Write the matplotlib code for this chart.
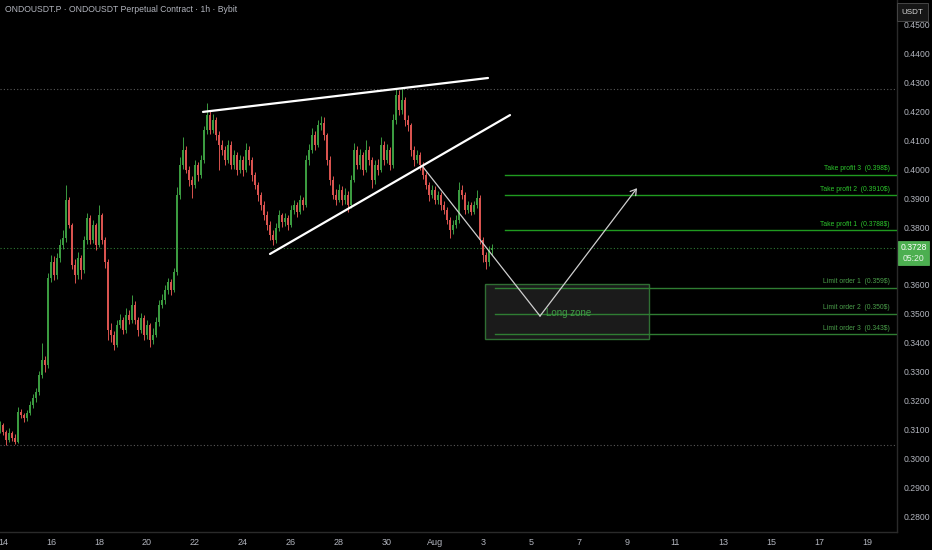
import numpy as np
import matplotlib
matplotlib.use("Agg")
from matplotlib import pyplot as plt
from matplotlib.patches import Rectangle, FancyArrowPatch

plt.rcParams["font.family"] = ["Liberation Sans", "DejaVu Sans"]

# 3h candles, ONDOUSDT from Jul 13 21:00 (day numbers counted from Jul 1)
start_day = 13.875
step = 0.125
first_open = 0.3100

closes = [
    0.3117, 0.3093, 0.3066, 0.3090, 0.3072, 0.3059, 0.3162, 0.3152, 0.3141, 0.3159,
    0.3186, 0.3210, 0.3231, 0.3290, 0.3341, 0.3324, 0.3624, 0.3679, 0.3634, 0.3693,
    0.3738, 0.3762, 0.3893, 0.3807, 0.3669, 0.3634, 0.3693, 0.3652, 0.3755, 0.3831,
    0.3755, 0.3807, 0.3738, 0.3841, 0.3755, 0.3679, 0.3445, 0.3428, 0.3393, 0.3462,
    0.3479, 0.3445, 0.3497, 0.3479, 0.3531, 0.3479, 0.3445, 0.3486, 0.3428, 0.3462,
    0.3410, 0.3428, 0.3472, 0.3531, 0.3548, 0.3583, 0.3610, 0.3583, 0.3645, 0.3910,
    0.4014, 0.4066, 0.3997, 0.3962, 0.3945, 0.4014, 0.3979, 0.4031, 0.4134, 0.4186,
    0.4134, 0.4169, 0.4117, 0.4083, 0.4066, 0.4031, 0.4083, 0.4014, 0.4048, 0.3997,
    0.4031, 0.3997, 0.4066, 0.4031, 0.3979, 0.3945, 0.3910, 0.3876, 0.3841, 0.3807,
    0.3772, 0.3755, 0.3797, 0.3841, 0.3817, 0.3831, 0.3807, 0.3859, 0.3876, 0.3852,
    0.3893, 0.3876, 0.4031, 0.4066, 0.4117, 0.4083, 0.4152, 0.4160, 0.4117, 0.4031,
    0.3962, 0.3910, 0.3893, 0.3928, 0.3893, 0.3910, 0.3876, 0.3962, 0.4066, 0.4014,
    0.4048, 0.3997, 0.4066, 0.4031, 0.3962, 0.4014, 0.3997, 0.4083, 0.4031, 0.4066,
    0.4014, 0.4169, 0.4255, 0.4203, 0.4238, 0.4169, 0.4152, 0.4066, 0.4031, 0.4048,
    0.4014, 0.3979, 0.3945, 0.3910, 0.3928, 0.3893, 0.3910, 0.3876, 0.3859, 0.3824,
    0.3790, 0.3807, 0.3824, 0.3928, 0.3910, 0.3859, 0.3876, 0.3852, 0.3876, 0.3900,
    0.3755, 0.3703, 0.3679, 0.3721, 0.3728,
]
highs = [
    0.3130, 0.3125, 0.3100, 0.3105, 0.3098, 0.3085, 0.3180, 0.3172, 0.3160, 0.3170,
    0.3200, 0.3225, 0.3245, 0.3305, 0.3400, 0.3355, 0.3640, 0.3705, 0.3700, 0.3712,
    0.3760, 0.3790, 0.3945, 0.3905, 0.3815, 0.3690, 0.3715, 0.3705, 0.3770, 0.3850,
    0.3840, 0.3825, 0.3815, 0.3876, 0.3850, 0.3765, 0.3690, 0.3470, 0.3440, 0.3480,
    0.3500, 0.3490, 0.3520, 0.3515, 0.3566, 0.3545, 0.3490, 0.3505, 0.3495, 0.3480,
    0.3470, 0.3450, 0.3490, 0.3548, 0.3570, 0.3600, 0.3625, 0.3620, 0.3660, 0.3938,
    0.4040, 0.4110, 0.4080, 0.4010, 0.3975, 0.4030, 0.4025, 0.4050, 0.4150, 0.4228,
    0.4200, 0.4190, 0.4180, 0.4130, 0.4100, 0.4080, 0.4100, 0.4095, 0.4065, 0.4060,
    0.4050, 0.4045, 0.4090, 0.4080, 0.4040, 0.3990, 0.3955, 0.3920, 0.3890, 0.3855,
    0.3820, 0.3790, 0.3815, 0.3860, 0.3850, 0.3850, 0.3840, 0.3875, 0.3893, 0.3885,
    0.3910, 0.3905, 0.4050, 0.4085, 0.4140, 0.4130, 0.4170, 0.4183, 0.4180, 0.4125,
    0.4045, 0.3975, 0.3930, 0.3950, 0.3940, 0.3935, 0.3925, 0.3980, 0.4090, 0.4080,
    0.4070, 0.4060, 0.4100, 0.4080, 0.4040, 0.4030, 0.4035, 0.4110, 0.4095, 0.4085,
    0.4075, 0.4190, 0.4279, 0.4272, 0.4279, 0.4250, 0.4185, 0.4160, 0.4080, 0.4065,
    0.4060, 0.4025, 0.3990, 0.3955, 0.3945, 0.3940, 0.3925, 0.3920, 0.3890, 0.3870,
    0.3835, 0.3825, 0.3840, 0.3955, 0.3945, 0.3920, 0.3890, 0.3885, 0.3890, 0.3928,
    0.3910, 0.3765, 0.3715, 0.3735, 0.3740,
]
lows = [
    0.3090, 0.3082, 0.3048, 0.3058, 0.3062, 0.3050, 0.3055, 0.3140, 0.3128, 0.3132,
    0.3150, 0.3175, 0.3195, 0.3220, 0.3280, 0.3300, 0.3315, 0.3610, 0.3618, 0.3620,
    0.3680, 0.3725, 0.3750, 0.3795, 0.3655, 0.3607, 0.3620, 0.3620, 0.3640, 0.3740,
    0.3740, 0.3745, 0.3720, 0.3730, 0.3740, 0.3660, 0.3410, 0.3405, 0.3376, 0.3385,
    0.3450, 0.3430, 0.3435, 0.3465, 0.3470, 0.3465, 0.3425, 0.3435, 0.3410, 0.3415,
    0.3386, 0.3395, 0.3420, 0.3460, 0.3520, 0.3535, 0.3570, 0.3565, 0.3575, 0.3635,
    0.3895, 0.4000, 0.3985, 0.3940, 0.3900, 0.3935, 0.3960, 0.3970, 0.4020, 0.4120,
    0.4120, 0.4125, 0.4100, 0.3997, 0.4050, 0.4015, 0.4020, 0.4000, 0.4000, 0.3980,
    0.3985, 0.3975, 0.3990, 0.4015, 0.3960, 0.3930, 0.3890, 0.3860, 0.3825, 0.3790,
    0.3755, 0.3738, 0.3745, 0.3785, 0.3800, 0.3805, 0.3790, 0.3800, 0.3845, 0.3835,
    0.3845, 0.3860, 0.3870, 0.4015, 0.4055, 0.4065, 0.4075, 0.4135, 0.4100, 0.4015,
    0.3945, 0.3895, 0.3875, 0.3885, 0.3875, 0.3880, 0.3852, 0.3865, 0.3955, 0.4000,
    0.4000, 0.3980, 0.3990, 0.4015, 0.3935, 0.3950, 0.3980, 0.3990, 0.4015, 0.4020,
    0.3995, 0.4005, 0.4155, 0.4185, 0.4190, 0.4150, 0.4130, 0.4045, 0.4010, 0.4020,
    0.3997, 0.3965, 0.3930, 0.3890, 0.3900, 0.3880, 0.3880, 0.3860, 0.3845, 0.3810,
    0.3762, 0.3775, 0.3795, 0.3815, 0.3895, 0.3845, 0.3850, 0.3840, 0.3845, 0.3865,
    0.3740, 0.3680, 0.3655, 0.3665, 0.3705,
]

# drawn setup
upper_line = ([22.333, 34.208], [0.4197, 0.4314])
lower_line = ([25.125, 35.125], [0.3707, 0.4186])
path_x = [31.5, 36.375, 40.417]
path_y = [0.4007, 0.3493, 0.3934]
zone = (34.083, 40.917, 0.3414, 0.3603)

tp_levels = [0.3980, 0.3910, 0.3788]
tp_labels = ["Take profit 3  (0.398$)", "Take profit 2  (0.3910$)", "Take profit 1  (0.3788$)"]
lim_levels = [0.3590, 0.3500, 0.3430]
lim_labels = ["Limit order 1  (0.359$)", "Limit order 2  (0.350$)", "Limit order 3  (0.343$)"]

last_price = 0.3728
hi_mark = 0.4276
lo_mark = 0.3048

day_ticks = [14, 16, 18, 20, 22, 24, 26, 28, 30, 32, 34, 36, 38, 40, 42, 44, 46, 48, 50]
day_labels = ["14", "16", "18", "20", "22", "24", "26", "28", "30", "Aug",
              "3", "5", "7", "9", "11", "13", "15", "17", "19"]
price_ticks = np.round(np.arange(0.28, 0.4501, 0.01), 2)

W, H = 932, 550
fig = plt.figure(figsize=(W / 100, H / 100), dpi=100)
fig.patch.set_facecolor("black")
ax = fig.add_axes([0, 18 / H, 897 / W, 1 - 18 / H])
ax.set_facecolor("black")

up_col = "#3b9b40"
dn_col = "#d9534f"
opens = [first_open] + closes[:-1]
xs = start_day + step * np.arange(len(closes))
cols = [up_col if c >= o else dn_col for o, c in zip(opens, closes)]
ax.vlines(xs, lows, highs, colors=cols, linewidth=0.7, zorder=3)
bottoms = np.minimum(opens, closes)
heights = np.maximum(np.abs(np.array(closes) - np.array(opens)), 0.0003)
ax.bar(xs, heights, bottom=bottoms, width=step * 0.7, color=cols, linewidth=0, zorder=3)

# horizontal dotted marks
ax.axhline(hi_mark, color="#5a5a5a", linestyle=(0, (1, 2)), linewidth=0.8, zorder=1)
ax.axhline(lo_mark, color="#5a5a5a", linestyle=(0, (1, 2)), linewidth=0.8, zorder=1)
ax.axhline(last_price, color="#2f7d35", linestyle=(0, (1, 2)), linewidth=0.8, zorder=1)

# wedge
ax.plot(*upper_line, color="white", linewidth=1.6, solid_capstyle="round", zorder=5)
ax.plot(*lower_line, color="white", linewidth=1.6, solid_capstyle="round", zorder=5)

# long zone box
ax.add_patch(Rectangle((zone[0], zone[2]), zone[1] - zone[0], zone[3] - zone[2],
                       facecolor="#1b1b1b", edgecolor="#2f6e33", linewidth=1, zorder=2))
ax.text(path_x[1] + 0.25, 0.3503, "Long zone", color="#3f9c45", fontsize=7,
        va="center", ha="left", zorder=6)

x_end = 51.25
for lvl, lab in zip(tp_levels, tp_labels):
    ax.plot([34.917, x_end], [lvl, lvl], color="#1f9a1f", linewidth=1.0, zorder=4)
    ax.text(50.95, lvl + 0.0009, lab, color="#2cc52c", fontsize=4.9, ha="right", va="bottom", zorder=6)
for lvl, lab in zip(lim_levels, lim_labels):
    ax.plot([34.5, x_end], [lvl, lvl], color="#2f7d33", linewidth=1.0, zorder=4)
    ax.text(50.95, lvl + 0.0009, lab, color="#4a9e4a", fontsize=4.9, ha="right", va="bottom", zorder=6)

# projected path
ax.plot(path_x[:2], path_y[:2], color="#cfcfcf", linewidth=0.9, zorder=6)
ax.add_patch(FancyArrowPatch((path_x[1], path_y[1]), (path_x[2], path_y[2]),
                             arrowstyle="->,head_length=4,head_width=2.5", color="#cfcfcf",
                             linewidth=0.9, zorder=6, shrinkA=0, shrinkB=0))

ax.set_xlim(start_day, x_end)
ax.set_ylim(0.2748, 0.4583)
ax.set_xticks(day_ticks)
ax.set_xticklabels(day_labels)
ax.yaxis.tick_right()
ax.set_yticks(price_ticks)
# the 0.3700 label sits under the last-price tag
ax.set_yticklabels(["" if abs(p - 0.37) < 1e-9 else f"{p:.4f}" for p in price_ticks])
ax.tick_params(axis="x", colors="#b2b5be", labelsize=6.5, length=0, pad=4)
ax.tick_params(axis="y", colors="#b2b5be", labelsize=6.2, length=0, pad=5)
for s in ["top", "left"]:
    ax.spines[s].set_visible(False)
for s in ["right", "bottom"]:
    ax.spines[s].set_color("#2a2a2a")
    ax.spines[s].set_linewidth(1)

fig.text(5 / W, 1 - 10 / H, "ONDOUSDT.P · ONDOUSDT Perpetual Contract · 1h · Bybit",
         color="#b2b5be", fontsize=6.2, va="center", ha="left")

# last price tag
fig.patches.append(Rectangle((898 / W, 1 - 265 / H), 31 / W, 24 / H, transform=fig.transFigure,
                             facecolor="#4caf50", edgecolor="#5cbf60", linewidth=0.5))
fig.text(913.5 / W, 1 - 248 / H, f"{last_price:.4f}", color="white", fontsize=6.2, ha="center", va="center")
fig.text(913.5 / W, 1 - 258.5 / H, "05:20", color="#e8f5e9", fontsize=6.2, ha="center", va="center")

# currency button
fig.patches.append(Rectangle((897 / W, 1 - 21 / H), 31 / W, 18 / H, transform=fig.transFigure,
                             facecolor="#161616", edgecolor="#454545", linewidth=0.7))
fig.text(912.5 / W, 1 - 12 / H, "USDT", color="#d8d8d8", fontsize=5.8, ha="center", va="center")

fig.savefig("out.png", dpi=100, facecolor="black")
